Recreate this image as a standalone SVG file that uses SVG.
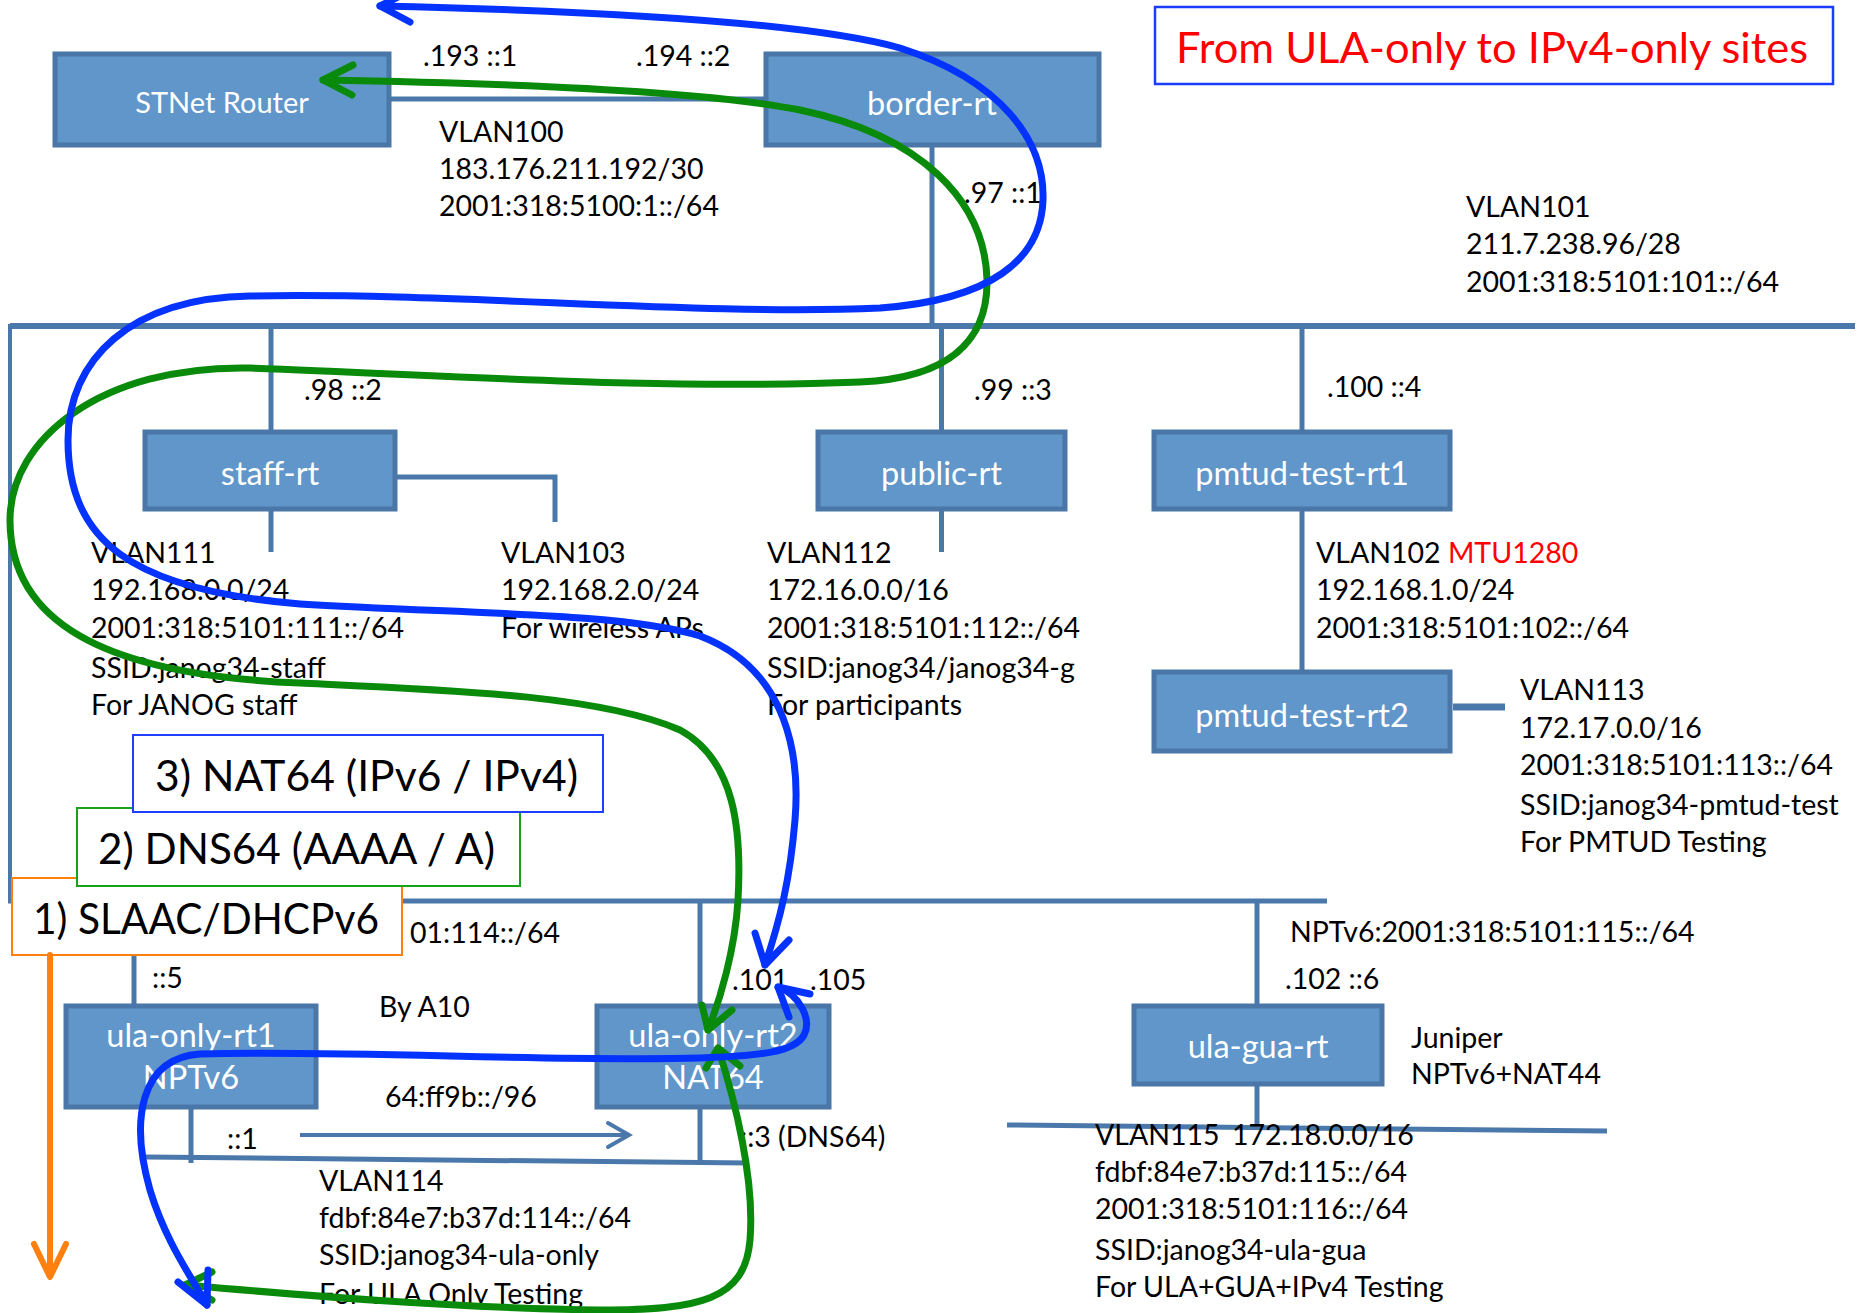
<svg xmlns="http://www.w3.org/2000/svg" width="1865" height="1313" viewBox="0 0 1865 1313">
<style>
.bg{fill:#fff}
.box{fill:#6096C9;stroke:#4A76A8;stroke-width:5}
.ln{stroke:#4B78AA;stroke-width:5;fill:none}
.t{font-family:Lato,"Open Sans","Liberation Sans",sans-serif;font-size:28.5px;fill:#000}
.nl{font-family:Lato,"Open Sans","Liberation Sans",sans-serif;font-size:32.5px;fill:#fff;text-anchor:middle}
.lg{font-family:Lato,"Open Sans","Liberation Sans",sans-serif;font-size:43px;fill:#000}
.red{fill:#FF0000}
.blue{stroke:#0433FF;stroke-width:7;fill:none;stroke-linecap:round;stroke-linejoin:round}
.green{stroke:#0A8A0A;stroke-width:7;fill:none;stroke-linecap:round;stroke-linejoin:round}
.orange{stroke:#FF7F0F;stroke-width:6;fill:none;stroke-linecap:round;stroke-linejoin:round}
</style>
<rect class="bg" x="0" y="0" width="1865" height="1313"/>

<g id="connectors">
  <line class="ln" x1="389" y1="99" x2="766" y2="99"/>
  <line class="ln" x1="932" y1="145" x2="932" y2="326"/>
  <line class="ln" x1="10" y1="326" x2="1855" y2="326" style="stroke-width:6"/>
  <line class="ln" x1="10" y1="324" x2="10" y2="903" style="stroke-width:4"/>
  <line class="ln" x1="271" y1="326" x2="271" y2="432"/>
  <line class="ln" x1="271" y1="509" x2="271" y2="552"/>
  <polyline class="ln" points="395,477 555,477 555,522"/>
  <line class="ln" x1="941.5" y1="326" x2="941.5" y2="432"/>
  <line class="ln" x1="941.5" y1="509" x2="941.5" y2="552"/>
  <line class="ln" x1="1302" y1="326" x2="1302" y2="432"/>
  <line class="ln" x1="1302" y1="509" x2="1302" y2="672"/>
  <line class="ln" x1="1453" y1="707" x2="1505" y2="707" style="stroke-width:7"/>
  <line class="ln" x1="8" y1="901" x2="1327" y2="901"/>
  <line class="ln" x1="134" y1="901" x2="134" y2="1006"/>
  <line class="ln" x1="700" y1="901" x2="700" y2="1006"/>
  <line class="ln" x1="1257" y1="901" x2="1257" y2="1006"/>
  <line class="ln" x1="191" y1="1107" x2="191" y2="1163"/>
  <line class="ln" x1="700" y1="1107" x2="700" y2="1162"/>
  <line class="ln" x1="145" y1="1157" x2="749" y2="1163"/>
  <line class="ln" x1="1257" y1="1084" x2="1257" y2="1128"/>
  <line class="ln" x1="1007" y1="1125" x2="1607" y2="1131"/>
  <g id="prefix-arrow">
    <line class="ln" x1="300" y1="1135" x2="627" y2="1135" style="stroke-width:4"/>
    <polyline class="ln" points="608,1123 629,1135 608,1147" style="stroke-width:4;stroke-linecap:round"/>
  </g>
</g>

<g id="title">
  <rect x="1155" y="7" width="678" height="77" fill="#fff" stroke="#1A3CFF" stroke-width="2.5"/>
  <text class="lg red" x="1176" y="63" textLength="632" lengthAdjust="spacingAndGlyphs">From ULA-only to IPv4-only sites</text>
</g>

<g id="stnet-router">
  <rect class="box" x="55" y="54" width="334" height="91"/>
  <text class="nl" x="222" y="113" style="font-size:29px">STNet Router</text>
</g>
<g id="border-rt">
  <rect class="box" x="766" y="54" width="333" height="91"/>
  <text class="nl" x="932" y="115">border-rt</text>
</g>
<g id="staff-rt">
  <rect class="box" x="145" y="432" width="250" height="77"/>
  <text class="nl" x="270" y="485">staff-rt</text>
</g>
<g id="public-rt">
  <rect class="box" x="818" y="432" width="247" height="77"/>
  <text class="nl" x="941.5" y="485">public-rt</text>
</g>
<g id="pmtud-test-rt1">
  <rect class="box" x="1154" y="432" width="296" height="77"/>
  <text class="nl" x="1302" y="485">pmtud-test-rt1</text>
</g>
<g id="pmtud-test-rt2">
  <rect class="box" x="1154" y="672" width="296" height="79"/>
  <text class="nl" x="1302" y="727">pmtud-test-rt2</text>
</g>
<g id="ula-only-rt1">
  <rect class="box" x="66" y="1006" width="250" height="101"/>
  <text class="nl" x="191" y="1047">ula-only-rt1</text>
  <text class="nl" x="191" y="1089">NPTv6</text>
</g>
<g id="ula-only-rt2">
  <rect class="box" x="597" y="1006" width="232" height="101"/>
  <text class="nl" x="713" y="1047">ula-only-rt2</text>
  <text class="nl" x="713" y="1089">NAT64</text>
</g>
<g id="ula-gua-rt">
  <rect class="box" x="1134" y="1006" width="248" height="78"/>
  <text class="nl" x="1258" y="1058">ula-gua-rt</text>
</g>

<g id="labels" class="t">
  <text x="423" y="66">.193 ::1</text>
  <text x="636" y="66">.194 ::2</text>
  <text x="439" y="142">VLAN100</text>
  <text x="439" y="179">183.176.211.192/30</text>
  <text x="439" y="216">2001:318:5100:1::/64</text>
  <text x="964" y="203">.97 ::1</text>
  <text x="1466" y="217">VLAN101</text>
  <text x="1466" y="254">211.7.238.96/28</text>
  <text x="1466" y="292">2001:318:5101:101::/64</text>

  <text x="304" y="400">.98 ::2</text>
  <text x="974" y="400">.99 ::3</text>
  <text x="1327" y="397">.100 ::4</text>

  <text x="91" y="563">VLAN111</text>
  <text x="91" y="600">192.168.0.0/24</text>
  <text x="91" y="638">2001:318:5101:111::/64</text>
  <text x="91" y="678">SSID:janog34-staff</text>
  <text x="91" y="715">For JANOG staff</text>

  <text x="501" y="563">VLAN103</text>
  <text x="501" y="600">192.168.2.0/24</text>
  <text x="501" y="638">For wireless APs</text>

  <text x="767" y="563">VLAN112</text>
  <text x="767" y="600">172.16.0.0/16</text>
  <text x="767" y="638">2001:318:5101:112::/64</text>
  <text x="767" y="678">SSID:janog34/janog34-g</text>
  <text x="767" y="715">For participants</text>

  <text x="1316" y="563">VLAN102 <tspan class="red">MTU1280</tspan></text>
  <text x="1316" y="600">192.168.1.0/24</text>
  <text x="1316" y="638">2001:318:5101:102::/64</text>

  <text x="1520" y="700">VLAN113</text>
  <text x="1520" y="738">172.17.0.0/16</text>
  <text x="1520" y="775">2001:318:5101:113::/64</text>
  <text x="1520" y="815">SSID:janog34-pmtud-test</text>
  <text x="1520" y="852">For PMTUD Testing</text>

  <text x="560" y="943" text-anchor="end">01:114::/64</text>
  <text x="152" y="988">::5</text>
  <text x="379" y="1017">By A10</text>
  <text x="732" y="990">.101</text>
  <text x="810" y="990">.105</text>
  <text x="385" y="1107">64:ff9b::/96</text>
  <text x="227" y="1149">::1</text>
  <text x="740" y="1147">::3 (DNS64)</text>
  <text x="319" y="1191">VLAN114</text>
  <text x="319" y="1228">fdbf:84e7:b37d:114::/64</text>
  <text x="319" y="1265">SSID:janog34-ula-only</text>
  <text x="319" y="1304">For ULA Only Testing</text>

  <text x="1290" y="942">NPTv6:2001:318:5101:115::/64</text>
  <text x="1285" y="989">.102 ::6</text>
  <text x="1411" y="1048">Juniper</text>
  <text x="1411" y="1084">NPTv6+NAT44</text>
  <text x="1095" y="1145">VLAN115<tspan x="1232">172.18.0.0/16</tspan></text>
  <text x="1095" y="1182">fdbf:84e7:b37d:115::/64</text>
  <text x="1095" y="1219">2001:318:5101:116::/64</text>
  <text x="1095" y="1260">SSID:janog34-ula-gua</text>
  <text x="1095" y="1297">For ULA+GUA+IPv4 Testing</text>
</g>

<g id="legend-slaac">
  <rect x="12" y="878" width="390" height="77" fill="#fff" stroke="#FF7F0F" stroke-width="2"/>
  <text class="lg" x="33" y="934" textLength="346" lengthAdjust="spacingAndGlyphs">1) SLAAC/DHCPv6</text>
</g>
<g id="legend-dns64">
  <rect x="77" y="808" width="443" height="78" fill="#fff" stroke="#17A317" stroke-width="2"/>
  <text class="lg" x="98" y="864" textLength="397" lengthAdjust="spacingAndGlyphs">2) DNS64 (AAAA / A)</text>
</g>
<g id="legend-nat64">
  <rect x="133" y="735" width="470" height="77" fill="#fff" stroke="#1F3FFF" stroke-width="2"/>
  <text class="lg" x="155" y="791" textLength="423" lengthAdjust="spacingAndGlyphs">3) NAT64 (IPv6 / IPv4)</text>
</g>

<g id="flows">
  <g id="slaac-flow">
    <line class="orange" x1="50" y1="955" x2="50" y2="1275"/>
    <polyline class="orange" points="34,1244 50,1277 66,1244"/>
  </g>
  <g id="dns64-flow">
    <path class="green" d="M 323 80 C 500 83, 700 90, 800 110 C 920 135, 985 200, 987 280 C 988 340, 950 378, 860 382 C 650 390, 450 375, 250 368 C 100 365, 10 440, 10 520 C 10 620, 100 675, 300 683 C 450 690, 600 695, 680 730 C 735 760, 742 830, 738 900 C 735 950, 720 1000, 708 1030"/>
    <polyline class="green" points="353,65 323,80 352,95"/>
    <polyline class="green" points="702,1005 708,1030 732,1010"/>
    <path class="green" d="M 718 1048 C 735 1100, 755 1180, 750 1240 C 745 1300, 700 1310, 600 1310 C 450 1308, 300 1295, 185 1285"/>
    <polyline class="green" points="706,1068 718,1048 740,1066"/>
    <polyline class="green" points="212,1272 185,1285 212,1300"/>
  </g>
  <g id="nat64-flow">
    <path class="blue" d="M 380 6 C 560 10, 800 20, 900 48 C 1000 80, 1045 140, 1043 200 C 1041 260, 990 300, 880 308 C 700 316, 450 292, 250 296 C 130 298, 68 360, 68 440 C 68 540, 130 590, 300 604 C 460 614, 620 612, 700 636 C 790 670, 800 760, 795 820 C 790 880, 780 920, 765 965"/>
    <polyline class="blue" points="408,-8 380,6 410,22"/>
    <polyline class="blue" points="755,933 765,965 789,940"/>
    <path class="blue" d="M 778 987 C 800 995, 812 1020, 804 1035 C 795 1052, 760 1056, 700 1058 C 550 1062, 350 1050, 200 1054 C 140 1058, 130 1120, 150 1190 C 165 1240, 190 1275, 207 1305"/>
    <polyline class="blue" points="810,994 778,987 789,1017"/>
    <polyline class="blue" points="178,1282 207,1305 208,1270"/>
  </g>
</g>
</svg>
